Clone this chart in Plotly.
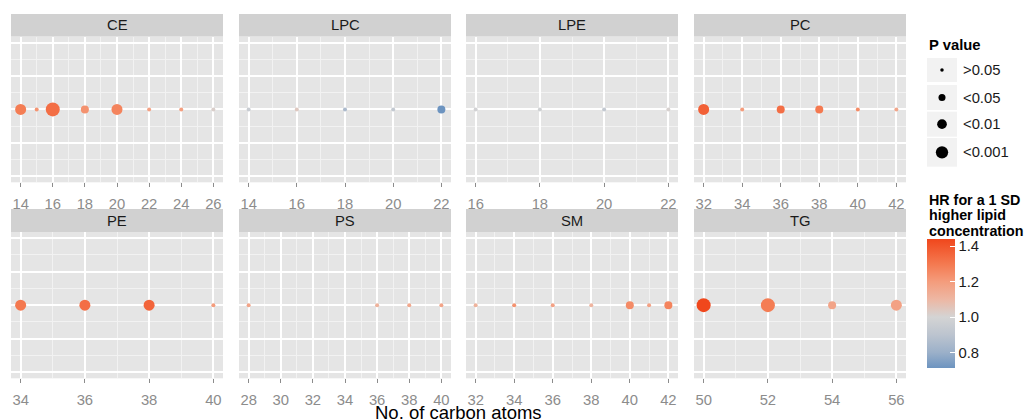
import plotly.graph_objects as go

# ---------------- data ----------------
lipid_classes = ["CE", "LPC", "LPE", "PC", "PE", "PS", "SM", "TG"]

ce_carbons = [14, 15, 16, 18, 20, 22, 24, 26]
ce_hr = [1.29, 1.22, 1.33, 1.23, 1.27, 1.18, 1.19, 1.02]
ce_p = ["<0.01", ">0.05", "<0.001", "<0.05", "<0.01", ">0.05", ">0.05", ">0.05"]

lpc_carbons = [14, 16, 18, 20, 22]
lpc_hr = [0.95, 1.04, 0.85, 0.93, 0.713]
lpc_p = [">0.05", ">0.05", ">0.05", ">0.05", "<0.05"]

lpe_carbons = [16, 18, 20, 22]
lpe_hr = [0.99, 0.98, 0.93, 1.01]
lpe_p = [">0.05", ">0.05", ">0.05", ">0.05"]

pc_carbons = [32, 34, 36, 38, 40, 42]
pc_hr = [1.37, 1.20, 1.33, 1.30, 1.25, 1.16]
pc_p = ["<0.01", ">0.05", "<0.05", "<0.05", ">0.05", ">0.05"]

pe_carbons = [34, 36, 38, 40]
pe_hr = [1.30, 1.33, 1.36, 1.20]
pe_p = ["<0.01", "<0.01", "<0.01", ">0.05"]

ps_carbons = [28, 36, 38, 40]
ps_hr = [1.17, 1.12, 1.16, 1.17]
ps_p = [">0.05", ">0.05", ">0.05", ">0.05"]

sm_carbons = [32, 34, 36, 38, 40, 41, 42]
sm_hr = [1.12, 1.23, 1.18, 1.11, 1.25, 1.18, 1.27]
sm_p = [">0.05", ">0.05", ">0.05", ">0.05", "<0.05", ">0.05", "<0.05"]

tg_carbons = [50, 52, 54, 56]
tg_hr = [1.44, 1.29, 1.17, 1.18]
tg_p = ["<0.001", "<0.001", "<0.05", "<0.01"]

p_levels = [">0.05", "<0.05", "<0.01", "<0.001"]
hr_ticks = [0.8, 1.0, 1.2, 1.4]

# ---------------- styling ----------------
W, H = 1029, 420
FONT = "Liberation Sans, Arial, Helvetica, sans-serif"
SMALL = 14.8
p_size = {">0.05": 4, "<0.05": 8, "<0.01": 11, "<0.001": 14}
legend_size_scale = 0.88

panels = [
    ("CE", ce_carbons, ce_hr, ce_p),
    ("LPC", lpc_carbons, lpc_hr, lpc_p),
    ("LPE", lpe_carbons, lpe_hr, lpe_p),
    ("PC", pc_carbons, pc_hr, pc_p),
    ("PE", pe_carbons, pe_hr, pe_p),
    ("PS", ps_carbons, ps_hr, ps_p),
    ("SM", sm_carbons, sm_hr, sm_p),
    ("TG", tg_carbons, tg_hr, tg_p),
]

all_hr = ce_hr + lpc_hr + lpe_hr + pc_hr + pe_hr + ps_hr + sm_hr + tg_hr
cmin, cmax = min(all_hr), max(all_hr)

# colour gradient (value -> colour), normalised to colour axis
grad = [(cmin, "#6d94c0"), (0.8, "#9bb0c9"), (0.9, "#bcc4cf"), (1.0, "#d4d4d4"),
        (1.1, "#edb7a3"), (1.2, "#f49c7c"), (1.3, "#f47950"), (cmax, "#f0471c")]
colorscale = [[(v - cmin) / (cmax - cmin), c] for v, c in grad]

col_px = [(11, 223), (239, 451), (466, 678), (694, 906)]
row_panel_px = [(36.5, 182.3), (232, 378.3)]
row_strip_px = [(14, 36.5), (209, 232)]


def fx(px):
    return px / W


def fy(py):
    return 1 - py / H


fig = go.Figure()
layout = {}
shapes = []
annotations = []

for i, (name, xs, hrs, ps) in enumerate(panels):
    r, c = divmod(i, 4)
    k = i + 1
    sfx = "" if k == 1 else str(k)
    x0p, x1p = col_px[c]
    y0p, y1p = row_panel_px[r]
    lo, hi = min(xs), max(xs)
    pad = 0.05 * (hi - lo)
    fig.add_trace(go.Scatter(
        x=xs, y=[0] * len(xs), mode="markers",
        xaxis="x" + sfx, yaxis="y" + sfx,
        marker=dict(size=[p_size[p] for p in ps], color=hrs, coloraxis="coloraxis",
                    line=dict(width=0), opacity=1),
        showlegend=False,
        hovertemplate=name + " C%{x}<br>HR %{marker.color:.2f}<extra></extra>",
    ))
    layout["xaxis" + sfx] = dict(
        domain=[fx(x0p), fx(x1p)], range=[lo - pad, hi + pad], anchor="y" + sfx,
        tick0=0, dtick=2, showgrid=True, gridcolor="white", gridwidth=1.6,
        minor=dict(dtick=1, showgrid=True, gridcolor="#f2f2f2", gridwidth=0.8),
        zeroline=False, showline=False, ticks="outside", ticklen=4,
        tickcolor="#8c8c8c", tickwidth=1,
        tickfont=dict(size=SMALL, color="#8c8c8c", family=FONT),
        ticklabelstandoff=4, fixedrange=True,
    )
    layout["yaxis" + sfx] = dict(
        domain=[fy(y1p), fy(y0p)], range=[-0.0545, 0.0545], anchor="x" + sfx,
        tick0=0, dtick=0.025, showticklabels=False, ticks="",
        showgrid=True, gridcolor="white", gridwidth=1.6,
        minor=dict(dtick=0.0125, showgrid=True, gridcolor="#f2f2f2", gridwidth=0.8),
        zeroline=False, showline=False, fixedrange=True,
    )
    # facet strip
    s0, s1 = row_strip_px[r]
    shapes.append(dict(type="rect", xref="paper", yref="paper",
                       x0=fx(x0p), x1=fx(x1p), y0=fy(s1), y1=fy(s0),
                       fillcolor="#d1d1d1", line=dict(width=0), layer="below"))
    annotations.append(dict(text=name, xref="paper", yref="paper",
                            x=fx((x0p + x1p) / 2), y=fy((s0 + s1) / 2),
                            xanchor="center", yanchor="middle", showarrow=False,
                            font=dict(size=SMALL, color="#1a1a1a", family=FONT)))

# x axis title
annotations.append(dict(text="No. of carbon atoms", xref="paper", yref="paper",
                        x=fx((col_px[0][0] + col_px[3][1]) / 2), y=fy(412),
                        xanchor="center", yanchor="middle", showarrow=False,
                        borderpad=0,
                        font=dict(size=18.5, color="black", family=FONT)))

# size legend
leg_x0, leg_x1 = 927, 957
annotations.append(dict(text="<b>P value</b>", xref="paper", yref="paper",
                        x=fx(leg_x0), y=fy(45), xanchor="left", yanchor="middle",
                        showarrow=False, font=dict(size=SMALL, color="black", family=FONT)))
key_rows = [(58, 82), (85, 110), (111.7, 136.7), (138, 166.7)]
for lbl, (ky0, ky1) in zip(p_levels, key_rows):
    shapes.append(dict(type="rect", xref="paper", yref="paper",
                       x0=fx(leg_x0), x1=fx(leg_x1), y0=fy(ky1), y1=fy(ky0),
                       fillcolor="#f2f2f2", line=dict(width=0)))
    d = p_size[lbl] * legend_size_scale
    kc = (ky0 + ky1) / 2
    shapes.append(dict(type="circle", xref="paper", yref="paper",
                       xsizemode="pixel", ysizemode="pixel",
                       xanchor=fx((leg_x0 + leg_x1) / 2), yanchor=fy(kc),
                       x0=-d / 2, x1=d / 2, y0=-d / 2, y1=d / 2,
                       fillcolor="black", line=dict(width=0)))
    annotations.append(dict(text=lbl, xref="paper", yref="paper",
                            x=fx(961), y=fy(kc), xanchor="left", yanchor="middle",
                            showarrow=False, font=dict(size=SMALL, color="#1a1a1a", family=FONT)))

# colour legend title
for txt, yy in zip(["HR for a 1 SD", "higher lipid", "concentration"], [200, 215.5, 231]):
    annotations.append(dict(text="<b>" + txt + "</b>", xref="paper", yref="paper",
                            x=fx(leg_x0), y=fy(yy), xanchor="left", yanchor="middle",
                            showarrow=False, font=dict(size=14.3, color="black", family=FONT)))

cb_top, cb_bot, cb_w = 239, 368, 28
layout["coloraxis"] = dict(
    colorscale=colorscale, cmin=cmin, cmax=cmax,
    colorbar=dict(
        x=fx(leg_x0), xanchor="left", y=fy(cb_top), yanchor="top",
        len=(cb_bot - cb_top) / H, lenmode="fraction",
        thickness=cb_w, thicknessmode="pixels", xpad=0, ypad=0,
        outlinewidth=0, ticks="inside", ticklen=5, tickcolor="white", tickwidth=1,
        tickvals=hr_ticks, ticktext=[f"{v:.1f}" for v in hr_ticks],
        tickfont=dict(size=SMALL, color="#1a1a1a", family=FONT),
    ),
)
# matching white tick marks on the left edge of the colour bar (ggplot style)
for v in hr_ticks:
    ty = cb_top + (cmax - v) / (cmax - cmin) * (cb_bot - cb_top)
    shapes.append(dict(type="line", xref="paper", yref="paper",
                       x0=fx(leg_x0), x1=fx(leg_x0 + 5), y0=fy(ty), y1=fy(ty),
                       line=dict(color="white", width=1)))

fig.update_layout(
    width=W, height=H, margin=dict(l=0, r=0, t=0, b=0),
    paper_bgcolor="white", plot_bgcolor="#e5e5e5",
    font=dict(family=FONT), shapes=shapes, annotations=annotations,
    showlegend=False, **layout,
)

# the page's default body margin would shift the figure; remove it
fig.write_html("out.html", config={"displayModeBar": False},
               post_script="document.body.style.margin='0';document.body.style.overflow='hidden';")
